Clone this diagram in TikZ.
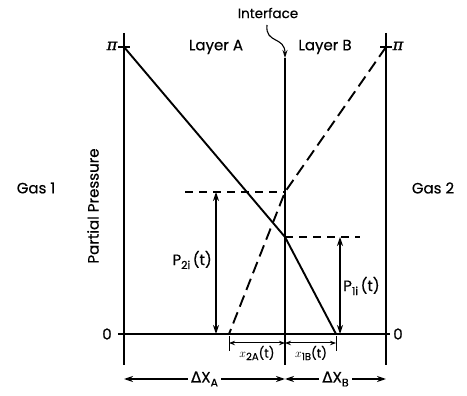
\documentclass[tikz,border=0pt]{standalone}
\usepackage{fontspec}
\setmainfont{Poppins}[FakeBold=0.5]
\newfontfamily\dvfont{DejaVu Sans}[FakeBold=0.5]
\newfontfamily\dvserif{DejaVu Serif}[FakeBold=1.2]
\usetikzlibrary{arrows.meta}
\newcommand{\sbs}[1]{\raisebox{-4pt}{\fontsize{11}{12}\selectfont #1}}
\newcommand{\ssbs}[1]{\raisebox{-2.5pt}{\fontsize{10}{11}\selectfont #1}}
\begin{document}
\begin{tikzpicture}[x=1pt,y=-1pt,
  lbl/.style={font=\fontsize{15}{17}\selectfont, inner sep=1pt},
  smlbl/.style={font=\fontsize{12.5}{13}\selectfont, inner sep=1pt},
  wall/.style={line width=1.4pt},
  prof/.style={line width=1.9pt},
  dprof/.style={line width=1.9pt, dash pattern=on 12pt off 6pt},
  guide/.style={line width=1.2pt, dash pattern=on 8pt off 6pt},
  tip/.style={-{Stealth[length=8pt,width=5pt]}},
  dtip/.style={{Stealth[length=9pt,width=6pt]}-{Stealth[length=9pt,width=6pt]}},
  stip/.style={{Stealth[length=6pt,width=4.5pt]}-{Stealth[length=6pt,width=4.5pt]}, line width=1pt}]
\useasboundingbox (0,0) rectangle (467,396);
% walls
\coordinate (LT) at (124,33); \coordinate (LB) at (124,365);
\coordinate (RT) at (386,33); \coordinate (RB) at (386,365);
\coordinate (IT) at (285,58); \coordinate (IB) at (285,365);
\draw[wall] (LT) -- (LB);
\draw[wall] (RT) -- (RB);
\draw[wall] (IT) -- (IB);
% baseline
\coordinate (O1) at (118,334); \coordinate (O2) at (390,334);
\draw[wall] (O1) -- (O2);
% pi ticks
\coordinate (PL) at (124,47); \coordinate (PR) at (386,47);
\draw[wall] ([xshift=-6pt]PL) -- ([xshift=6pt]PL);
\draw[wall] ([xshift=-6pt]PR) -- ([xshift=6pt]PR);
% key points
\coordinate (S1) at (285,237);
\coordinate (S2) at (285,192);
\coordinate (A0) at (336,334);
\coordinate (B0) at (229,334);
% profiles
\draw[prof] (PL) -- (S1) -- (A0);
\draw[dprof] (PR) -- (S2) -- (B0);
% guides
\coordinate (G1) at (185,192);
\coordinate (G2) at (360,237);
\draw[guide] (G1) -- (S2);
\draw[guide] (S1) -- (G2);
% pressure arrows
\coordinate (P2t) at (216,192); \coordinate (P2b) at (216,334);
\coordinate (P1t) at (340,237); \coordinate (P1b) at (340,334);
\draw[dtip, line width=1.2pt] (P2t) -- (P2b);
\draw[dtip, line width=1.2pt] (P1t) -- (P1b);
% small dimension arrows
\coordinate (D1) at (229,343); \coordinate (D2) at (285,343); \coordinate (D3) at (336,343);
\draw[line width=1pt] (229,336) -- (229,351);
\draw[line width=1pt] (336,336) -- (336,351);
\draw[stip] (D1) -- (D2);
\draw[stip] (D2) -- (D3);
% big dimension arrows
\coordinate (X1) at (124,379); \coordinate (X2) at (285,379); \coordinate (X3) at (386,379);
\draw[dtip, line width=1.2pt] (X1) -- node[lbl, fill=white, inner sep=3pt] (dxa) {{\dvfont Δ}X\sbs{A}} (X2);
\draw[dtip, line width=1.2pt] (X2) -- node[lbl, fill=white, inner sep=3pt] (dxb) {{\dvfont Δ}X\sbs{B}} (X3);
% labels
\node[lbl, font=\fontsize{13.5}{15}\selectfont] (iface) at (268,13) {Interface};
\draw[tip, line width=1.1pt] (267,25) .. controls (265,44) and (285,36) .. (IT);
\node[lbl] (la) at (216,47) {Layer A};
\node[lbl] (lb) at (325,47) {Layer B};
\node[lbl, font=\fontsize{16}{16}\selectfont\dvserif\itshape] (pil) at (112,46) {π};
\node[lbl, font=\fontsize{16}{16}\selectfont\dvserif\itshape] (pir) at (398,46) {π};
\node[lbl] (g1) at (36,188) {Gas 1};
\node[lbl] (g2) at (433,188) {Gas 2};
\node[lbl, rotate=90] (pp) at (93,206) {Partial Pressure};
\node[lbl] (z1) at (107,334) {0};
\node[lbl] (z2) at (398,334) {0};
\node[lbl, anchor=east] (p2) at (213,260) {P\sbs{2i}\,(t)};
\node[lbl, anchor=west] (p1) at (342,286) {P\sbs{1i}\,(t)};
\node[smlbl] (x2a) at (257,353) {$x$\ssbs{2A}(t)};
\node[smlbl] (x1b) at (311,353) {$x$\ssbs{1B}(t)};
\end{tikzpicture}
\end{document}
